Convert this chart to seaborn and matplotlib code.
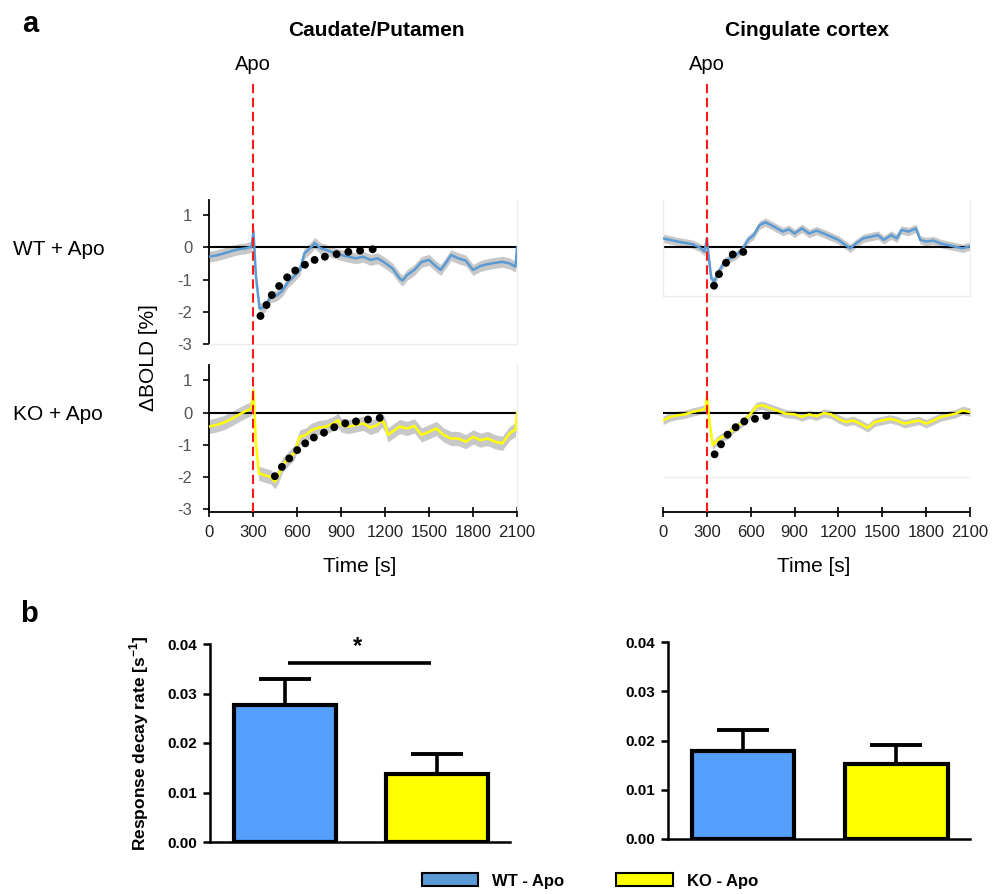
import numpy as np
import pandas as pd
import matplotlib
matplotlib.use("Agg")
import matplotlib.pyplot as plt
import seaborn as sns
from matplotlib.patches import Patch
from matplotlib.ticker import FormatStrFormatter

# ---------------- data ----------------
# Caudate/Putamen, WT + Apo (time in s, BOLD change in %)
cp_wt_t = [0, 50, 100, 150, 200, 250, 290, 303, 320, 345, 380, 420, 460, 500, 540, 580, 620, 650, 700, 720,
           760, 800, 850, 900, 950, 1000, 1050, 1100, 1150, 1200, 1250, 1300, 1320, 1350, 1400, 1450, 1500, 1550,
           1580, 1620, 1650, 1700, 1750, 1800, 1850, 1900, 1950, 2000, 2050, 2090, 2100]
cp_wt_v = [-0.29, -0.25, -0.19, -0.12, -0.06, -0.03, 0.02, 0.50, -0.90, -1.90, -1.85, -1.55, -1.50, -1.35, -1.07,
           -0.90, -0.70, -0.19, 0.02, 0.14, -0.03, -0.08, -0.17, -0.24, -0.29, -0.34, -0.29, -0.39, -0.34, -0.48,
           -0.65, -0.96, -1.03, -0.86, -0.70, -0.45, -0.39, -0.60, -0.70, -0.45, -0.24, -0.34, -0.41, -0.70, -0.58,
           -0.52, -0.48, -0.45, -0.50, -0.60, 0.0]
cp_wt_sem = 0.17
cp_wt_fit_t = [351, 392, 428, 478, 533, 588, 654, 720, 790, 870, 950, 1030, 1116]
cp_wt_fit_v = [-2.13, -1.79, -1.48, -1.20, -0.93, -0.72, -0.54, -0.39, -0.29, -0.21, -0.14, -0.10, -0.06]

# Caudate/Putamen, KO + Apo
cp_ko_t = [0, 50, 100, 150, 200, 250, 290, 303, 320, 340, 380, 420, 450, 470, 500, 540, 580, 620, 660, 700,
           750, 800, 850, 880, 900, 950, 1000, 1050, 1100, 1150, 1180, 1200, 1220, 1250, 1300, 1350, 1400, 1450,
           1500, 1550, 1600, 1650, 1700, 1750, 1800, 1850, 1900, 1950, 2000, 2050, 2090, 2100]
cp_ko_v = [-0.43, -0.38, -0.31, -0.20, -0.07, 0.05, 0.13, 0.70, -0.95, -1.88, -1.94, -1.99, -2.14, -1.99, -1.63,
           -1.42, -1.26, -0.75, -0.69, -0.54, -0.46, -0.43, -0.33, -0.23, -0.38, -0.43, -0.38, -0.33, -0.46, -0.38,
           -0.23, -0.38, -0.69, -0.59, -0.43, -0.49, -0.41, -0.69, -0.59, -0.49, -0.69, -0.80, -0.80, -0.90, -0.75,
           -0.85, -0.80, -0.90, -0.95, -0.64, -0.52, 0.0]
cp_ko_sem = 0.22
cp_ko_fit_t = [449, 497, 547, 601, 656, 715, 784, 854, 929, 1002, 1084, 1164]
cp_ko_fit_v = [-1.97, -1.68, -1.42, -1.16, -0.95, -0.77, -0.62, -0.45, -0.33, -0.27, -0.21, -0.16]

# Cingulate cortex, WT + Apo
cg_wt_t = [0, 50, 100, 150, 200, 250, 285, 300, 310, 330, 350, 380, 420, 460, 500, 540, 580, 620, 660, 700,
           740, 780, 820, 860, 900, 950, 1000, 1050, 1100, 1150, 1200, 1250, 1280, 1320, 1370, 1420, 1470, 1510,
           1560, 1600, 1630, 1680, 1730, 1760, 1800, 1850, 1900, 1950, 2000, 2050, 2100]
cg_wt_v = [0.28, 0.23, 0.18, 0.14, 0.10, 0.0, -0.13, 0.28, -0.19, -0.96, -1.07, -0.76, -0.45, -0.34, -0.24,
           -0.08, 0.23, 0.38, 0.69, 0.78, 0.69, 0.59, 0.49, 0.56, 0.43, 0.59, 0.43, 0.52, 0.43, 0.33, 0.23, 0.07,
           -0.03, 0.12, 0.28, 0.33, 0.38, 0.23, 0.38, 0.28, 0.54, 0.49, 0.59, 0.23, 0.18, 0.21, 0.12, 0.07, 0.02,
           -0.03, 0.04]
cg_wt_sem = 0.13
cg_wt_fit_t = [349, 383, 431, 477, 549]
cg_wt_fit_v = [-1.19, -0.83, -0.48, -0.22, -0.14]

# Cingulate cortex, KO + Apo
cg_ko_t = [0, 50, 100, 150, 200, 250, 290, 300, 320, 340, 370, 400, 440, 480, 520, 560, 600, 640, 680, 720,
           780, 840, 900, 950, 1000, 1050, 1100, 1150, 1200, 1250, 1300, 1350, 1400, 1450, 1500, 1550, 1600, 1650,
           1700, 1750, 1800, 1850, 1900, 1950, 2000, 2050, 2100]
cg_ko_v = [-0.24, -0.13, -0.08, -0.05, 0.02, 0.07, 0.12, 0.49, -0.34, -1.01, -0.86, -0.76, -0.70, -0.50, -0.39,
           -0.24, -0.03, 0.20, 0.23, 0.16, 0.07, -0.03, -0.05, -0.13, -0.05, -0.11, -0.01, -0.05, -0.19, -0.29,
           -0.24, -0.34, -0.47, -0.29, -0.24, -0.19, -0.24, -0.34, -0.29, -0.24, -0.34, -0.24, -0.13, -0.08, -0.03,
           0.07, 0.02]
cg_ko_sem = 0.13
cg_ko_fit_t = [353, 397, 442, 497, 556, 629, 707]
cg_ko_fit_v = [-1.29, -0.98, -0.68, -0.45, -0.27, -0.19, -0.10]

# Response decay rates (s^-1), mean and SEM
groups = ["WT - Apo", "KO - Apo"]
cp_rate = [0.0277, 0.0138]
cp_rate_sem = [0.0052, 0.0040]
cg_rate = [0.0179, 0.0153]
cg_rate_sem = [0.0042, 0.0037]

time_ticks = [0, 300, 600, 900, 1200, 1500, 1800, 2100]
apo_time = 300

# ---------------- style ----------------
line_blue = "#5b9bd5"
bar_blue = "#549ffb"
yellow = "#ffff00"
band_gray = "#c8c8c8"
faint = "#ededed"

sns.set_style("ticks")
plt.rcParams["font.family"] = ["Liberation Sans", "DejaVu Sans"]
plt.rcParams["mathtext.fontset"] = "custom"
plt.rcParams["mathtext.rm"] = "Liberation Sans"
plt.rcParams["mathtext.bf"] = "Liberation Sans:bold"
plt.rcParams["axes.unicode_minus"] = False
plt.rcParams["text.color"] = "black"
plt.rcParams["axes.labelcolor"] = "black"
plt.rcParams["xtick.color"] = "black"
plt.rcParams["ytick.color"] = "black"

W, H = 1001, 894
fig = plt.figure(figsize=(W / 100, H / 100), dpi=100)


def px_axes(left, top, right, bottom, **kw):
    return fig.add_axes([left / W, 1 - bottom / H, (right - left) / W, (bottom - top) / H], **kw)


def trace_panel(ax, t, v, sem, fit_t, fit_v, color, ylim):
    t = np.asarray(t, dtype=float)
    v = np.asarray(v, dtype=float)
    ax.fill_between(t, v - sem, v + sem, color=band_gray, lw=0, zorder=1)
    ax.axhline(0, color="black", lw=1.5, zorder=2)
    sns.lineplot(x=t, y=v, color=color, lw=1.8, ax=ax, zorder=3)
    sns.scatterplot(x=fit_t, y=fit_v, color="black", s=32, edgecolor="none", ax=ax, zorder=4)
    ax.set_xlim(0, 2100)
    ax.set_ylim(*ylim)
    ax.set_xlabel("")
    ax.set_ylabel("")
    ax.patch.set_alpha(0)
    for s in ax.spines.values():
        s.set_color(faint)
        s.set_linewidth(1)
    ax.spines["top"].set_visible(False)
    ax.set_xticks([])
    ax.set_yticks([])


def time_axis(ax):
    ax.spines["bottom"].set_color("black")
    ax.spines["bottom"].set_linewidth(1.3)
    ax.set_xticks(time_ticks)
    ax.tick_params(axis="x", direction="inout", length=7, width=1.2, pad=6, labelsize=12, labelcolor="#222222")


def value_axis(ax):
    ax.spines["left"].set_color("black")
    ax.spines["left"].set_linewidth(1.3)
    ax.set_yticks([-3, -2, -1, 0, 1])
    ax.tick_params(axis="y", length=4, width=1.2, pad=8, labelsize=12, labelcolor="#555555")


# ---------------- panel a ----------------
cols = [(209, 517), (663, 970)]

ax = px_axes(209, 200, 517, 344)
trace_panel(ax, cp_wt_t, cp_wt_v, cp_wt_sem, cp_wt_fit_t, cp_wt_fit_v, line_blue, (-3.0, 1.47))
value_axis(ax)

ax = px_axes(209, 365, 517, 512)
trace_panel(ax, cp_ko_t, cp_ko_v, cp_ko_sem, cp_ko_fit_t, cp_ko_fit_v, yellow, (-3.08, 1.48))
value_axis(ax)
time_axis(ax)

ax = px_axes(663, 200, 970, 296)
trace_panel(ax, cg_wt_t, cg_wt_v, cg_wt_sem, cg_wt_fit_t, cg_wt_fit_v, line_blue, (-1.51, 1.47))

ax = px_axes(663, 365, 970, 512)
trace_panel(ax, cg_ko_t, cg_ko_v, cg_ko_sem, cg_ko_fit_t, cg_ko_fit_v, yellow, (-3.08, 1.48))
ax.spines["left"].set_visible(False)
ax.spines["right"].set_visible(False)
ax.axhline(-2, color=faint, lw=1, zorder=0)
time_axis(ax)

# Apo injection marker, spanning both rows of each column
for left, right in cols:
    ov = px_axes(left, 80, right, 512)
    ov.set_xlim(0, 2100)
    ov.set_ylim(0, 1)
    ov.axis("off")
    ov.axvline(apo_time, color="#ff1a1a", lw=1.5, dashes=(4.5, 2.2), zorder=5)
    ov.text(apo_time, 1.023, "Apo", ha="center", va="baseline", fontsize=14.5)
    fig.text((left + right) / 2 / W - 0.003, 1 - 572 / H, "Time [s]", ha="center", va="baseline", fontsize=15)

fig.text(376 / W, 1 - 36 / H, "Caudate/Putamen", ha="center", va="baseline", fontsize=15, fontweight="bold")
fig.text(807 / W, 1 - 36 / H, "Cingulate cortex", ha="center", va="baseline", fontsize=15, fontweight="bold")
fig.text(13 / W, 1 - 255 / H, "WT + Apo", ha="left", va="baseline", fontsize=15)
fig.text(13 / W, 1 - 420 / H, "KO + Apo", ha="left", va="baseline", fontsize=15)
fig.text(149 / W, 1 - 358 / H, "ΔBOLD [%]", ha="center", va="center", rotation=90, fontsize=15)
fig.text(22 / W, 1 - 32 / H, "a", ha="left", va="baseline", fontsize=21, fontweight="bold")
fig.text(20 / W, 1 - 622 / H, "b", ha="left", va="baseline", fontsize=21, fontweight="bold")


# ---------------- panel b ----------------
def bar_panel(ax, rates, sems):
    df = pd.DataFrame({"group": groups, "rate": rates})
    sns.barplot(data=df, x="group", y="rate", hue="group", palette=[bar_blue, yellow], width=0.67,
                saturation=1, edgecolor="black", linewidth=3, legend=False, ax=ax, zorder=2)
    ax.errorbar([0, 1], rates, yerr=[[0, 0], sems], fmt="none", ecolor="black", elinewidth=2.6,
                capsize=18.5, capthick=2.8, zorder=1)
    ax.set_xlim(-0.49, 1.48)
    ax.set_ylim(0, 0.04)
    ax.set_yticks([0, 0.01, 0.02, 0.03, 0.04])
    ax.yaxis.set_major_formatter(FormatStrFormatter("%.2f"))
    ax.set_xticks([])
    ax.set_xlabel("")
    ax.set_ylabel("")
    sns.despine(ax=ax)
    for s in ("left", "bottom"):
        ax.spines[s].set_linewidth(1.8)
        ax.spines[s].set_color("black")
    ax.tick_params(axis="y", length=5, width=1.8, pad=4, labelsize=11)
    for lab in ax.get_yticklabels():
        lab.set_fontweight("bold")


ax = px_axes(210, 644, 510, 842)
bar_panel(ax, cp_rate, cp_rate_sem)
ax.plot([0.02, 0.96], [0.0362, 0.0362], color="black", lw=2.6, solid_capstyle="butt")
ax.text(0.48, 0.0372, "*", ha="center", va="bottom", fontsize=17, fontweight="bold")
ax.set_ylabel(r"Response decay rate [s$^{\mathbf{-1}}$]", fontsize=12.5, fontweight="bold")
ax.yaxis.set_label_coords(-0.195, 0.5)

ax = px_axes(668, 642, 970, 839)
bar_panel(ax, cg_rate, cg_rate_sem)

handles = [Patch(facecolor=line_blue, edgecolor="black", lw=1.5),
           Patch(facecolor=yellow, edgecolor="black", lw=1.5)]
fig.legend(handles, groups, loc="center", bbox_to_anchor=(590 / W, 1 - 881 / H), ncol=2, frameon=False,
           handlelength=3.4, handleheight=0.8, handletextpad=0.85, columnspacing=3.1,
           prop={"weight": "bold", "size": 12})

fig.savefig("out.png", dpi=100)
